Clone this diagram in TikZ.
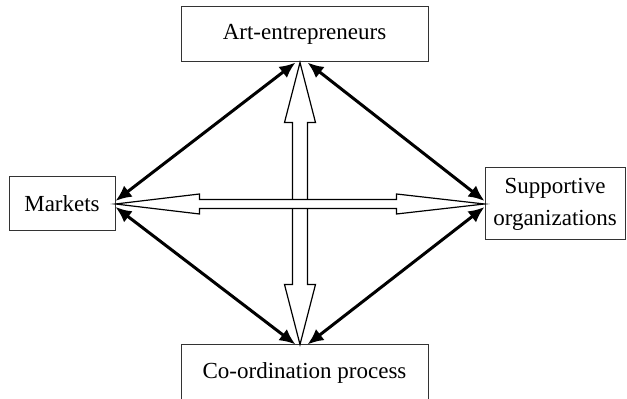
\documentclass[tikz,border=0pt]{standalone}
\usepackage{fontspec}
\setmainfont{Liberation Serif}
\usetikzlibrary{arrows.meta,positioning,calc}

\begin{document}
\begin{tikzpicture}[
    x=0.5pt, y=-0.5pt,
    box/.style={rectangle, draw=black!80, line width=0.5pt, font=\fontsize{11.5}{16}\selectfont, align=center, inner sep=0pt},
    link/.style={{Latex[length=8pt,width=7pt]}-{Latex[length=8pt,width=7pt]}, line width=1.5pt},
    hollow/.style={draw=black, line width=0.6pt, fill=white, line join=miter}
]
\useasboundingbox (0,0) rectangle (627,399);

% Actors
\node[box, minimum width=123.5pt, minimum height=27.5pt] (art) at (304.5,34.5) {Art-entrepreneurs};
\node[box, minimum width=53pt, minimum height=27pt] (markets) at (62,204) {Markets};
\node[box, minimum width=70pt, minimum height=36pt] (support) at (555,204) {Supportive\\organizations};
\node[box, minimum width=123.5pt, minimum height=27.5pt] (coord) at (304.5,372.5) {Co-ordination process};

% Tips of the open arrows
\coordinate (vt) at ($(art.south)+(-4.5,0)$);
\coordinate (vb) at ($(coord.north)+(-4.5,0)$);
\coordinate (hl) at (markets.east);
\coordinate (hr) at (support.west);

% Black links
\draw[link] ($(art.south)+(-9,0)$) -- ($(markets.east)+(0,-3)$);
\draw[link] ($(art.south)+(3,0)$) -- ($(support.west)+(0,-3)$);
\draw[link] ($(coord.north)+(-9,0)$) -- ($(markets.east)+(0,3)$);
\draw[link] ($(coord.north)+(3,0)$) -- ($(support.west)+(0,3)$);

% Open double arrows
\draw[hollow] (vt) -- ($(vt)+(15.5,60)$) -- ($(vt)+(7.5,60)$) -- ($(vb)+(7.5,-60)$)
    -- ($(vb)+(15.5,-60)$) -- (vb) -- ($(vb)+(-15.5,-60)$) -- ($(vb)+(-7.5,-60)$)
    -- ($(vt)+(-7.5,60)$) -- ($(vt)+(-15.5,60)$) -- cycle;
\draw[hollow] (hl) -- ($(hl)+(84,-10)$) -- ($(hl)+(84,-4.5)$) -- ($(hr)+(-88,-4.5)$)
    -- ($(hr)+(-88,-10)$) -- (hr) -- ($(hr)+(-88,10)$) -- ($(hr)+(-88,4.5)$)
    -- ($(hl)+(84,4.5)$) -- ($(hl)+(84,10)$) -- cycle;

\end{tikzpicture}
\end{document}
